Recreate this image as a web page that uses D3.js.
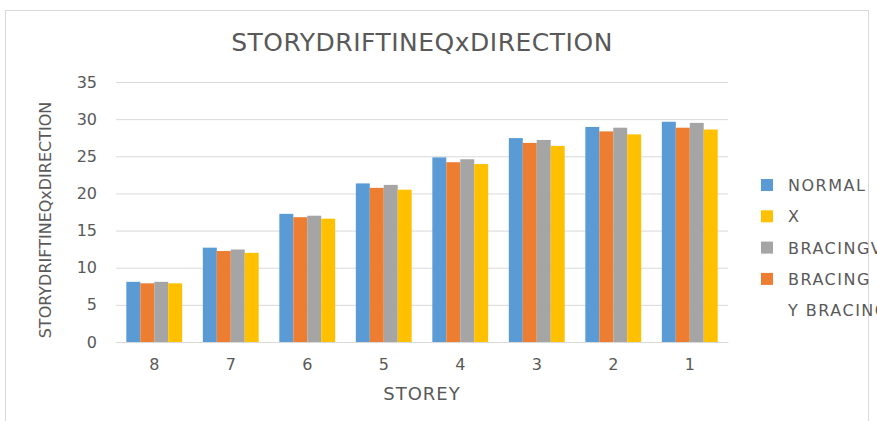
<!DOCTYPE html>
<html>
<head>
<meta charset="utf-8">
<script src="https://cdn.jsdelivr.net/npm/d3@7"></script>
<style>
  body { margin: 0; background: #fff; }
  text { font-family: "DejaVu Sans", "Open Sans", sans-serif; fill: #595959; }
</style>
</head>
<body>
<div id="chart"></div>
<script>
const storeys = ["8", "7", "6", "5", "4", "3", "2", "1"];
const seriesNames = ["NORMAL", "BRACING", "BRACINGV", "X"];
const seriesColors = ["#5b9bd5", "#ed7d31", "#a5a5a5", "#ffc000"];
const normal = [8.1, 12.7, 17.25, 21.35, 24.85, 27.45, 28.95, 29.65];
const bracing = [7.9, 12.25, 16.8, 20.75, 24.2, 26.8, 28.35, 28.85];
const bracingV = [8.1, 12.45, 17.0, 21.15, 24.6, 27.2, 28.85, 29.5];
const xBracing = [7.9, 12.0, 16.6, 20.5, 23.95, 26.4, 27.95, 28.6];
const yTicks = [0, 5, 10, 15, 20, 25, 30, 35];
const legendLabels = ["NORMAL", "X", "BRACINGV", "BRACING", "Y BRACING"];
const legendColors = ["#5b9bd5", "#ffc000", "#a5a5a5", "#ed7d31", null];

const seriesValues = [normal, bracing, bracingV, xBracing];

const W = 877, H = 421;
const margin = { top: 82, right: 149, bottom: 79, left: 116 };
const width = W - margin.left - margin.right;
const height = H - margin.top - margin.bottom;

const root = d3.select("#chart").append("svg")
  .attr("width", W)
  .attr("height", H);

// chart frame
root.append("rect")
  .attr("x", 5.5).attr("y", 10.5)
  .attr("width", 863).attr("height", 430)
  .attr("fill", "none")
  .attr("stroke", "#d9d9d9");

const svg = root.append("g")
  .attr("transform", `translate(${margin.left},${margin.top})`);

const x = d3.scaleBand()
  .domain(storeys)
  .range([0, width])
  .paddingInner(0.27)
  .paddingOuter(0.135);

const xSub = d3.scaleBand()
  .domain(seriesNames)
  .range([0, x.bandwidth()]);

const y = d3.scaleLinear()
  .domain([0, 35])
  .range([height, 0]);

// gridlines
svg.append("g")
  .call(d3.axisLeft(y).tickValues(yTicks).tickSize(-width).tickFormat(""))
  .call(g => g.select(".domain").remove())
  .call(g => g.selectAll("line").attr("stroke", "#d9d9d9"));

// y tick labels
svg.append("g")
  .call(d3.axisLeft(y).tickValues(yTicks).tickSize(0).tickPadding(19))
  .call(g => g.select(".domain").remove())
  .call(g => g.selectAll("text")
    .style("font-size", "16px")
    .style("font-family", "'DejaVu Sans', sans-serif")
    .attr("fill", "#595959"));

// bars
const groups = svg.append("g")
  .selectAll("g")
  .data(storeys)
  .enter()
  .append("g")
  .attr("transform", d => `translate(${x(d)},0)`);

groups.selectAll("rect")
  .data((d, i) => seriesNames.map((s, j) => ({ s, v: seriesValues[j][i], c: seriesColors[j] })))
  .enter()
  .append("rect")
  .attr("x", d => xSub(d.s))
  .attr("y", d => y(d.v))
  .attr("width", xSub.bandwidth())
  .attr("height", d => height - y(d.v))
  .attr("fill", d => d.c);

// x axis
svg.append("g")
  .attr("transform", `translate(0,${height})`)
  .call(d3.axisBottom(x).tickSize(0).tickPadding(17))
  .call(g => g.select(".domain").attr("stroke", "#d9d9d9"))
  .call(g => g.selectAll("text")
    .style("font-size", "16px")
    .style("font-family", "'DejaVu Sans', sans-serif")
    .attr("fill", "#595959"));

// title
svg.append("text")
  .attr("x", width / 2)
  .attr("y", -31)
  .attr("text-anchor", "middle")
  .style("font-size", "25px")
  .style("letter-spacing", "0.5px")
  .text("STORYDRIFTINEQxDIRECTION");

// x axis title
svg.append("text")
  .attr("x", width / 2)
  .attr("y", height + 58)
  .attr("text-anchor", "middle")
  .style("font-size", "18px")
  .style("letter-spacing", "1px")
  .text("STOREY");

// y axis title
svg.append("text")
  .attr("transform", "rotate(-90)")
  .attr("x", -height / 2 - 8)
  .attr("y", -65.5)
  .attr("text-anchor", "middle")
  .style("font-size", "16px")
  .text("STORYDRIFTINEQxDIRECTION");

// legend
const legend = root.append("g")
  .attr("transform", "translate(761,185)");

const items = legend.selectAll("g")
  .data(legendLabels)
  .enter()
  .append("g")
  .attr("transform", (d, i) => `translate(0,${i * 31.3})`);

items.filter((d, i) => legendColors[i] !== null)
  .append("rect")
  .attr("x", 0).attr("y", -6)
  .attr("width", 12).attr("height", 12)
  .attr("fill", (d) => legendColors[legendLabels.indexOf(d)]);

items.append("text")
  .attr("x", 27)
  .attr("y", 6)
  .style("font-size", "16px")
  .style("letter-spacing", "1.5px")
  .text(d => d);
</script>
</body>
</html>
